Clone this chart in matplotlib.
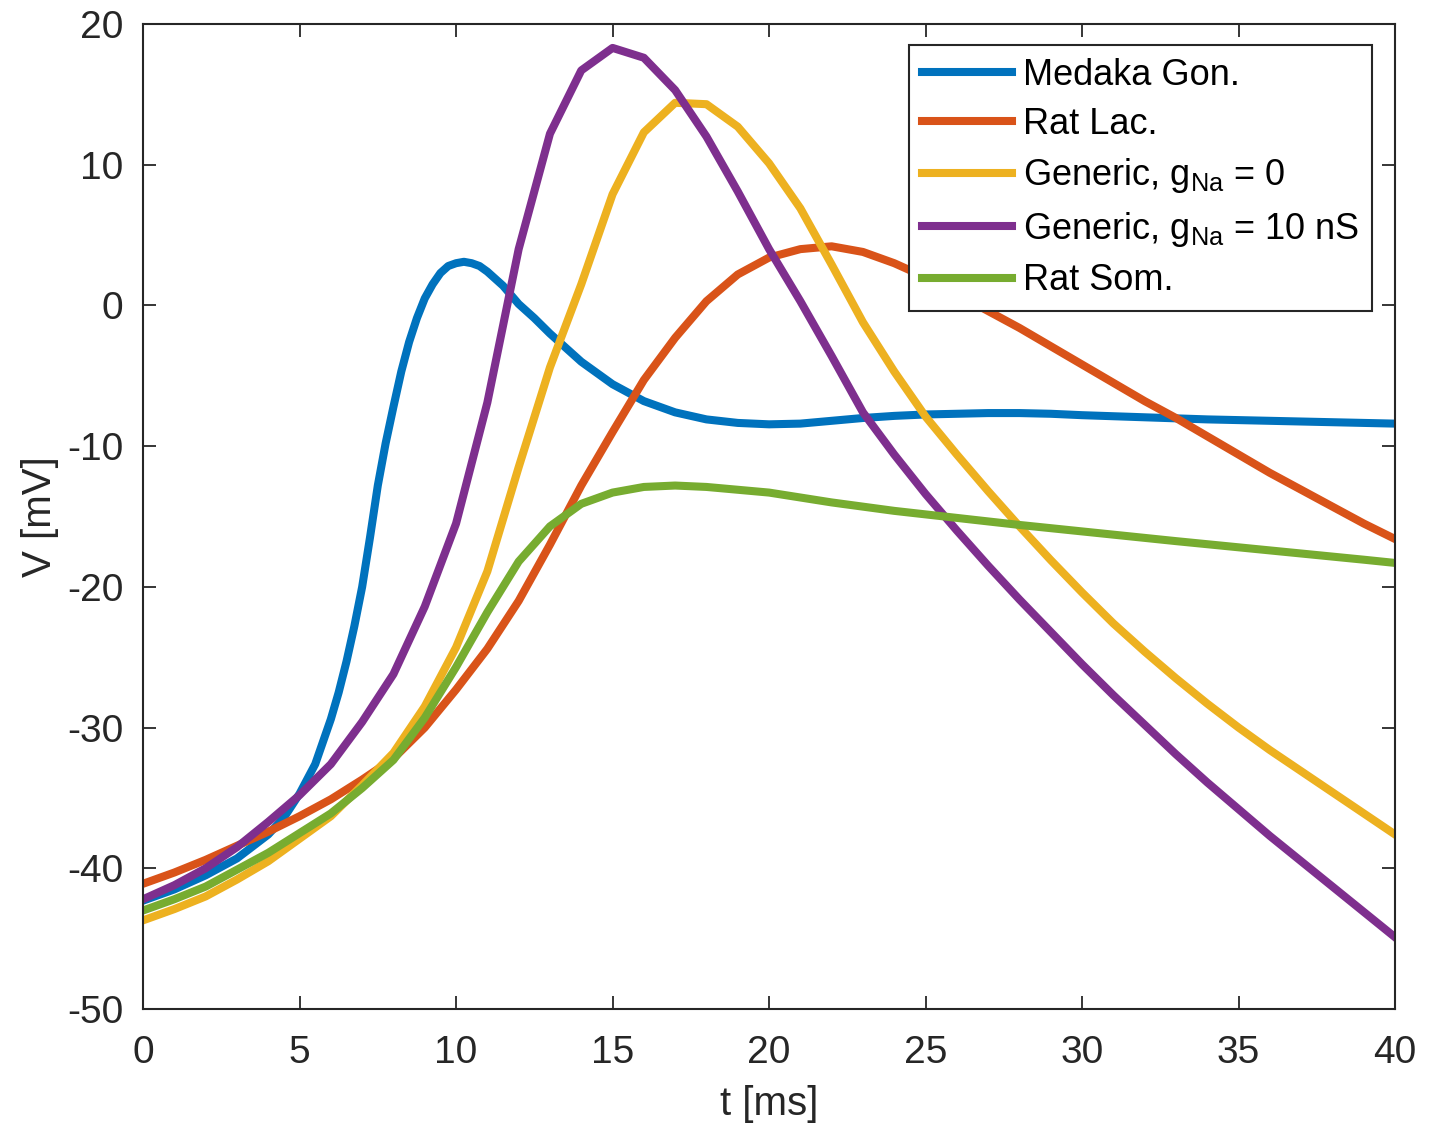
import numpy as np
import matplotlib
matplotlib.use('Agg')
import matplotlib.pyplot as plt

plt.rcParams['font.family'] = ['Liberation Sans', 'DejaVu Sans']
plt.rcParams['mathtext.fontset'] = 'custom'
plt.rcParams['mathtext.rm'] = 'Liberation Sans'
plt.rcParams['mathtext.it'] = 'Liberation Sans:italic'
plt.rcParams['axes.unicode_minus'] = False

# time grids [ms]
t_ms = list(range(0, 41))
t_medaka = [0, 1, 2, 3, 4, 4.5, 5, 5.5, 6, 6.25, 6.5, 6.75, 7, 7.25, 7.5, 7.75, 8,
            8.25, 8.5, 8.75, 9, 9.25, 9.5, 9.75, 10, 10.25, 10.5, 10.75, 11, 11.5,
            12, 12.5, 13, 13.5, 14, 14.5, 15, 16, 17, 18, 19, 20, 21, 22,
            23, 24, 25, 26, 27, 28, 29, 30, 32, 34, 36, 38, 40]

# membrane potential [mV]
v_medaka = [-42.3, -41.5, -40.5, -39.3, -37.6, -36.4, -34.7, -32.6, -29.4, -27.5,
            -25.3, -22.8, -20.0, -16.5, -12.8, -9.8, -7.2, -4.7, -2.6, -0.9, 0.5,
            1.5, 2.3, 2.8, 3.0, 3.1, 3.0, 2.8, 2.4, 1.4, 0.1, -0.9, -2.0,
            -3.0, -4.0, -4.8, -5.6, -6.8, -7.6, -8.1, -8.35, -8.45, -8.4, -8.2, -8.0,
            -7.85, -7.75, -7.7, -7.65, -7.65, -7.7, -7.8, -7.95, -8.1, -8.2, -8.3, -8.4]

v_rat_lac = [-41.1, -40.3, -39.4, -38.4, -37.4, -36.3, -35.1, -33.7, -32.2, -30.0,
             -27.3, -24.4, -21.0, -17.0, -12.8, -9.0, -5.3, -2.3, 0.3, 2.2,
             3.4, 4.0, 4.2, 3.8, 3.0, 2.0, 0.8, -0.4, -1.6, -2.9,
             -4.2, -5.5, -6.8, -8.0, -9.3, -10.6, -11.9, -13.1, -14.3, -15.5, -16.6]

v_generic_0 = [-43.7, -42.9, -42.0, -40.8, -39.5, -37.9, -36.3, -34.1, -31.8, -28.5,
               -24.3, -18.9, -11.5, -4.4, 1.5, 7.9, 12.3, 14.4, 14.3, 12.7,
               10.1, 6.9, 2.9, -1.2, -4.7, -7.9, -10.6, -13.2, -15.7, -18.1,
               -20.4, -22.6, -24.6, -26.5, -28.3, -30.0, -31.6, -33.1, -34.6, -36.1, -37.6]

v_generic_10 = [-42.2, -41.2, -40.0, -38.5, -36.7, -34.8, -32.6, -29.6, -26.2, -21.4,
                -15.5, -6.9, 4.0, 12.2, 16.7, 18.3, 17.6, 15.3, 12.0, 8.1,
                4.0, 0.3, -3.6, -7.6, -10.6, -13.4, -16.0, -18.5, -20.9, -23.2,
                -25.5, -27.7, -29.8, -31.9, -33.9, -35.8, -37.7, -39.5, -41.3, -43.1, -44.9]

v_rat_som = [-43.0, -42.2, -41.3, -40.1, -38.9, -37.5, -36.1, -34.3, -32.3, -29.3,
             -25.7, -21.8, -18.2, -15.7, -14.1, -13.3, -12.9, -12.8, -12.9, -13.1,
             -13.3, -13.65, -14.0, -14.3, -14.6, -14.85, -15.1, -15.35, -15.6, -15.83,
             -16.06, -16.29, -16.52, -16.75, -16.97, -17.19, -17.41, -17.63, -17.85, -18.07, -18.3]

fig = plt.figure(figsize=(14.32, 11.26), dpi=100)
ax = fig.add_axes([0.0999, 0.1039, 0.8743, 0.8748])

lw = 5.8
ax.plot(t_medaka, v_medaka, color='#0072BD', linewidth=lw, label='Medaka Gon.')
ax.plot(t_ms, v_rat_lac, color='#D95319', linewidth=lw, label='Rat Lac.')
ax.plot(t_ms, v_generic_0, color='#EDB120', linewidth=lw, label='Generic, g$_{\\mathrm{Na}}$ = 0')
ax.plot(t_ms, v_generic_10, color='#7E2F8E', linewidth=lw, label='Generic, g$_{\\mathrm{Na}}$ = 10 nS')
ax.plot(t_ms, v_rat_som, color='#77AC30', linewidth=lw, label='Rat Som.')

ax.set_xlim(0, 40)
ax.set_ylim(-50, 20)
ax.set_xticks(np.arange(0, 41, 5))
ax.set_yticks(np.arange(-50, 21, 10))
ax.tick_params(direction='in', length=9.5, width=1.3, top=True, right=True,
               labelsize=28, colors='#262626')
ax.tick_params(axis='x', pad=19)
ax.tick_params(axis='y', pad=14)
for s in ax.spines.values():
    s.set_linewidth(1.5)
    s.set_color('#262626')

ax.set_xlabel('t [ms]', fontsize=29, color='#262626', labelpad=10)
ax.set_ylabel('V [mV]', fontsize=29, color='#262626', labelpad=6)

leg = ax.legend(loc='upper right', bbox_to_anchor=(0.9816, 0.9787), borderaxespad=0,
                fontsize=26, fancybox=False, edgecolor='#262626', framealpha=1,
                handlelength=2.5, handletextpad=0.3, borderpad=0.35, labelspacing=0.4)
leg.get_frame().set_linewidth(1.5)

plt.savefig('out.png', dpi=100)
